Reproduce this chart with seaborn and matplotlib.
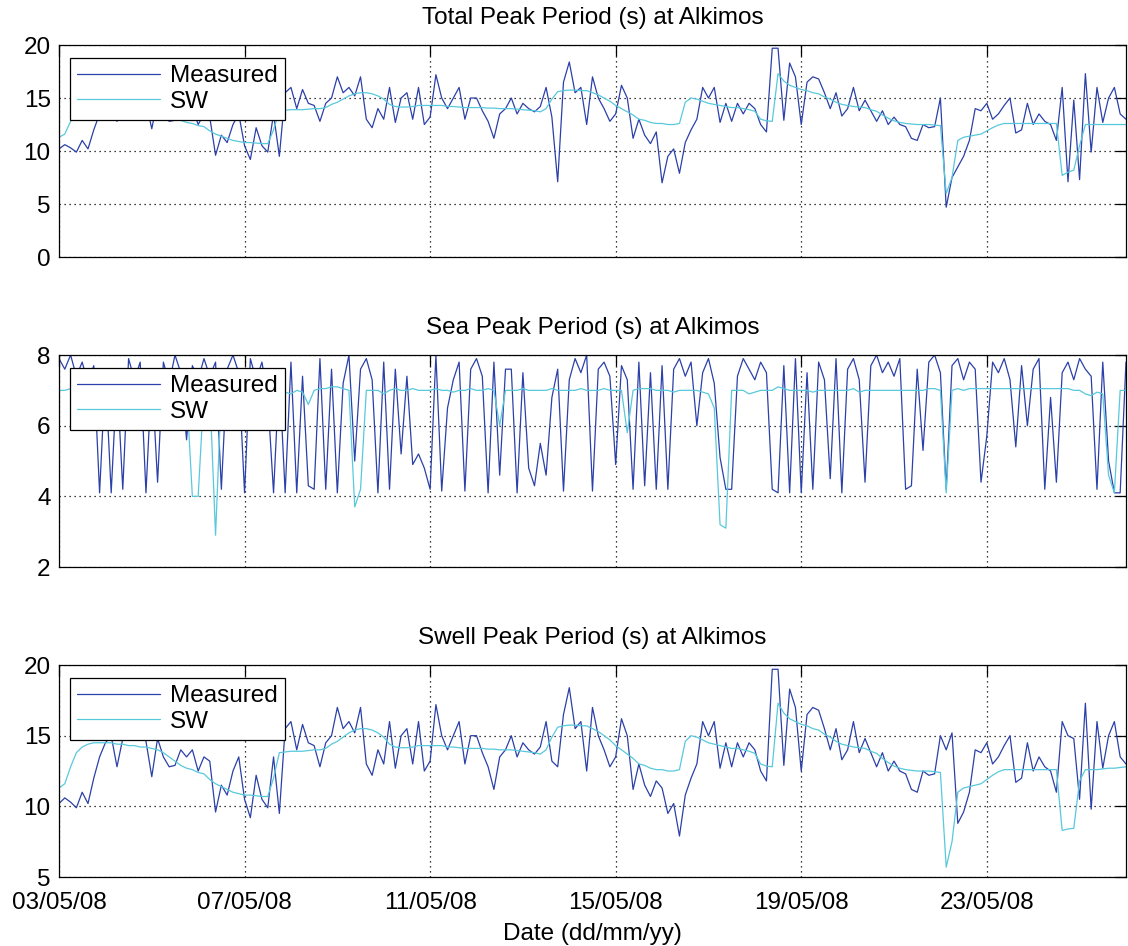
import pandas as pd
import matplotlib
matplotlib.use("Agg")
import matplotlib.pyplot as plt
import matplotlib.dates as mdates
import seaborn as sns

# 3-hourly samples, 03/05/08 00:00 -> 26/05/08 00:00
times = pd.date_range("2008-05-03", "2008-05-26", freq="3h")

total_measured = [
    10.2, 10.6, 10.3, 9.9, 11.0, 10.2, 12.0, 13.5,
    14.5, 15.0, 12.8, 14.8, 15.5, 14.8, 15.3, 14.6,
    12.1, 14.8, 13.5, 12.8, 12.9, 14.0, 13.5, 14.0,
    12.5, 13.5, 13.2, 9.6, 11.5, 10.8, 12.5, 13.5,
    10.5, 9.2, 12.2, 10.5, 9.9, 13.5, 9.5, 15.5,
    16.0, 14.0, 15.8, 14.5, 14.3, 12.8, 14.5, 15.0,
    17.0, 15.5, 16.0, 15.2, 17.0, 13.0, 12.2, 14.0,
    13.0, 16.0, 12.7, 15.0, 15.5, 13.0, 16.0, 12.5,
    13.2, 17.2, 15.0, 14.0, 15.0, 16.0, 13.0, 15.0,
    15.0, 13.8, 12.8, 11.2, 13.5, 14.0, 15.0, 13.5,
    14.5, 14.0, 13.7, 14.2, 16.0, 13.2, 7.1, 16.5,
    18.4, 15.5, 16.0, 12.5, 17.0, 15.0, 14.0, 12.8,
    13.5, 16.2, 15.0, 11.2, 13.0, 11.5, 10.7, 11.8,
    7.0, 9.5, 10.2, 7.9, 10.8, 12.0, 13.0, 16.0,
    15.0, 16.0, 12.7, 14.5, 12.8, 14.5, 13.5, 14.5,
    14.0, 12.5, 11.8, 19.7, 19.7, 12.9, 18.3, 17.0,
    12.5, 16.5, 17.0, 16.8, 15.5, 14.0, 15.5, 13.3,
    14.0, 16.0, 13.8, 14.8, 13.8, 12.8, 13.8, 12.5,
    13.2, 12.5, 12.3, 11.2, 11.0, 12.5, 12.2, 12.3,
    15.0, 4.7, 7.5, 8.5, 9.5, 11.0, 14.0, 13.8,
    14.5, 13.0, 13.5, 14.3, 15.0, 11.7, 12.0, 14.5,
    12.5, 13.5, 12.8, 12.5, 11.0, 16.0, 7.1, 14.8,
    7.3, 17.3, 9.9, 16.0, 12.7, 15.0, 16.0, 13.5,
    13.0,
]
total_sw = [
    11.3, 11.6, 12.8, 13.8, 14.2, 14.4, 14.5, 14.5,
    14.5, 14.5, 14.4, 14.4, 14.3, 14.3, 14.2, 14.2,
    14.1, 14.0, 13.8, 13.5, 13.2, 12.9, 12.7, 12.6,
    12.4, 12.3, 11.9, 11.6, 11.4, 11.2, 11.0, 10.9,
    10.8, 10.8, 10.75, 10.7, 10.7, 12.0, 13.8, 13.85,
    13.9, 13.9, 13.9, 13.95, 14.0, 14.0, 14.1, 14.4,
    14.6, 14.9, 15.2, 15.4, 15.5, 15.5, 15.4, 15.2,
    14.9, 14.4, 14.2, 14.15, 14.15, 14.2, 14.3, 14.3,
    14.3, 14.3, 14.3, 14.2, 14.2, 14.15, 14.1, 14.1,
    14.1, 14.1, 14.05, 14.05, 14.0, 14.0, 14.0, 13.95,
    13.9, 13.85, 13.8, 13.7, 14.0, 14.9, 15.6, 15.7,
    15.75, 15.75, 15.7, 15.7, 15.5, 15.3, 15.0, 14.7,
    14.3, 14.0, 13.7, 13.4, 13.0, 12.9, 12.7, 12.6,
    12.6, 12.5, 12.5, 12.6, 14.6, 15.0, 14.9, 14.7,
    14.5, 14.4, 14.3, 14.2, 14.1, 14.1, 14.0, 13.9,
    13.75, 13.0, 12.85, 12.8, 17.3, 16.6, 16.2, 16.0,
    15.8, 15.7, 15.5, 15.4, 15.1, 14.9, 14.6, 14.4,
    14.3, 14.2, 14.15, 14.1, 13.9, 13.75, 13.4, 13.1,
    12.85, 12.7, 12.6, 12.55, 12.5, 12.5, 12.5, 12.45,
    12.4, 6.0, 7.5, 11.0, 11.3, 11.4, 11.5, 11.6,
    11.9, 12.2, 12.45, 12.6, 12.6, 12.6, 12.6, 12.6,
    12.6, 12.6, 12.6, 12.6, 12.6, 7.7, 8.0, 8.2,
    10.5, 12.5, 12.5, 12.5, 12.5, 12.5, 12.5, 12.5,
    12.5,
]
sea_measured = [
    7.9, 7.6, 8.0, 7.4, 7.8, 7.2, 7.7, 4.1,
    7.5, 4.1, 7.4, 4.2, 7.9, 7.3, 7.8, 4.1,
    7.5, 4.4, 7.8, 7.2, 8.0, 7.5, 5.6, 7.7,
    7.3, 7.9, 7.4, 7.8, 4.2, 7.6, 8.0, 7.5,
    4.1, 7.9, 7.3, 7.8, 6.8, 4.1, 7.5, 4.1,
    7.8, 4.1, 7.4, 4.3, 4.2, 7.9, 4.2, 7.6,
    4.1, 7.2, 8.0, 5.0, 7.6, 7.9, 7.3, 4.1,
    7.8, 4.2, 7.6, 5.2, 7.4, 4.9, 5.2, 4.8,
    4.2, 8.0, 4.15, 6.5, 7.3, 7.8, 4.15, 7.6,
    7.9, 7.4, 4.1, 7.8, 4.6, 7.6, 7.6, 4.1,
    7.5, 4.8, 4.3, 5.5, 4.6, 6.8, 7.6, 4.15,
    7.3, 7.9, 7.5, 8.0, 4.15, 7.6, 7.8, 7.4,
    4.9, 7.7, 7.3, 4.2, 7.8, 4.3, 7.5, 4.2,
    7.7, 4.2, 7.6, 7.9, 7.4, 7.8, 6.0, 7.5,
    7.9, 7.2, 5.1, 4.2, 4.2, 7.4, 7.9, 7.6,
    7.3, 7.8, 7.5, 4.2, 4.1, 7.7, 4.1, 7.9,
    4.1, 7.5, 4.2, 7.8, 7.3, 4.5, 7.9, 4.1,
    7.6, 7.9, 7.3, 4.4, 7.7, 8.0, 7.5, 7.8,
    7.4, 7.9, 4.2, 4.3, 7.6, 5.3, 7.8, 8.0,
    7.5, 4.2, 7.7, 7.9, 7.3, 7.8, 7.6, 4.4,
    5.7, 7.8, 7.5, 7.9, 7.3, 5.4, 7.7, 6.0,
    7.6, 7.9, 4.2, 6.8, 4.4, 7.5, 7.8, 7.3,
    7.9, 7.6, 7.4, 4.2, 7.8, 5.0, 4.1, 4.1,
    7.8,
]
sea_sw = [
    7.0, 7.0, 7.05, 7.0, 7.0, 7.05, 7.0, 7.0,
    7.0, 7.05, 7.0, 7.0, 7.05, 7.0, 7.0, 7.0,
    7.0, 7.05, 7.0, 7.0, 6.95, 7.0, 7.0, 4.0,
    4.0, 7.0, 7.0, 2.9, 7.0, 7.05, 7.0, 7.0,
    7.0, 7.05, 7.0, 7.0, 7.05, 7.0, 6.95, 6.95,
    6.9, 7.0, 6.95, 6.6, 7.0, 7.05, 7.05, 7.1,
    7.1, 7.05, 7.0, 3.7, 4.2, 7.0, 7.0, 7.0,
    6.9, 7.0, 7.05, 7.0, 7.0, 7.05, 7.0, 7.0,
    7.0, 7.05, 7.0, 7.0, 6.95, 7.0, 7.0, 7.05,
    7.0, 7.0, 7.05, 7.0, 6.0, 7.0, 7.0, 7.0,
    7.05, 7.0, 7.0, 7.0, 7.0, 7.05, 7.0, 7.0,
    7.0, 7.0, 7.05, 7.0, 7.0, 7.0, 7.05, 7.0,
    7.0, 7.0, 5.8, 7.0, 7.05, 7.05, 7.05, 7.0,
    7.0, 7.0, 6.95, 7.0, 7.0, 7.0, 7.0, 6.95,
    6.9, 6.5, 3.2, 3.1, 7.0, 7.0, 7.0, 6.9,
    6.95, 7.0, 7.0, 7.0, 7.1, 7.05, 7.0, 7.0,
    7.0, 7.0, 6.95, 7.0, 7.0, 7.0, 7.0, 7.0,
    7.0, 7.05, 6.95, 7.0, 7.0, 7.0, 7.0, 7.0,
    7.0, 7.0, 7.0, 7.0, 7.0, 7.0, 7.05, 7.05,
    7.0, 4.1, 7.0, 7.05, 7.0, 7.05, 7.05, 7.05,
    7.05, 7.05, 7.05, 7.05, 7.05, 7.05, 7.05, 7.05,
    7.05, 7.05, 7.05, 7.05, 7.05, 7.05, 7.05, 7.0,
    7.0, 6.9, 6.85, 6.95, 6.9, 4.6, 4.1, 7.0,
    7.0,
]
swell_measured = [
    10.2, 10.6, 10.3, 9.9, 11.0, 10.2, 12.0, 13.5,
    14.5, 15.0, 12.8, 14.8, 15.5, 14.8, 15.3, 14.6,
    12.1, 14.8, 13.5, 12.8, 12.9, 14.0, 13.5, 14.0,
    12.5, 13.5, 13.2, 9.6, 11.5, 10.8, 12.5, 13.5,
    10.5, 9.2, 12.2, 10.5, 9.9, 13.5, 9.5, 15.5,
    16.0, 14.0, 15.8, 14.5, 14.3, 12.8, 14.5, 15.0,
    17.0, 15.5, 16.0, 15.2, 17.0, 13.0, 12.2, 14.0,
    13.0, 16.0, 12.7, 15.0, 15.5, 13.0, 16.0, 12.5,
    13.2, 17.2, 15.0, 14.0, 15.0, 16.0, 13.0, 15.0,
    15.0, 13.8, 12.8, 11.2, 13.5, 14.0, 15.0, 13.5,
    14.5, 14.0, 13.7, 14.2, 16.0, 13.2, 12.8, 16.5,
    18.4, 15.5, 16.0, 12.5, 17.0, 15.0, 14.0, 12.8,
    13.5, 16.2, 15.0, 11.2, 13.0, 11.5, 10.7, 11.8,
    11.3, 9.5, 10.2, 7.9, 10.8, 12.0, 13.0, 16.0,
    15.0, 16.0, 12.7, 14.5, 12.8, 14.5, 13.5, 14.5,
    14.0, 12.5, 11.8, 19.7, 19.7, 12.9, 18.3, 17.0,
    12.5, 16.5, 17.0, 16.8, 15.5, 14.0, 15.5, 13.3,
    14.0, 16.0, 13.8, 14.8, 13.8, 12.8, 13.8, 12.5,
    13.2, 12.5, 12.3, 11.2, 11.0, 12.5, 12.2, 12.3,
    15.0, 14.0, 15.2, 8.8, 9.6, 11.0, 14.0, 13.8,
    14.5, 13.0, 13.5, 14.3, 15.0, 11.7, 12.0, 14.5,
    12.5, 13.5, 12.8, 12.5, 11.0, 16.0, 15.0, 14.8,
    10.5, 17.3, 9.8, 16.0, 12.7, 15.0, 16.0, 13.5,
    13.0,
]
swell_sw = [
    11.3, 11.6, 12.8, 13.8, 14.2, 14.4, 14.5, 14.5,
    14.5, 14.5, 14.4, 14.4, 14.3, 14.3, 14.2, 14.2,
    14.1, 14.0, 13.8, 13.5, 13.2, 12.9, 12.7, 12.6,
    12.4, 12.3, 11.9, 11.6, 11.4, 11.2, 11.0, 10.9,
    10.8, 10.8, 10.75, 10.7, 10.7, 12.0, 13.8, 13.85,
    13.9, 13.9, 13.9, 13.95, 14.0, 14.0, 14.1, 14.4,
    14.6, 14.9, 15.2, 15.4, 15.5, 15.5, 15.4, 15.2,
    14.9, 14.4, 14.2, 14.15, 14.15, 14.2, 14.3, 14.3,
    14.3, 14.3, 14.3, 14.2, 14.2, 14.15, 14.1, 14.1,
    14.1, 14.1, 14.05, 14.05, 14.0, 14.0, 14.0, 13.95,
    13.9, 13.85, 13.8, 13.7, 14.0, 14.9, 15.6, 15.7,
    15.75, 15.75, 15.7, 15.7, 15.5, 15.3, 15.0, 14.7,
    14.3, 14.0, 13.7, 13.4, 13.0, 12.9, 12.7, 12.6,
    12.6, 12.5, 12.5, 12.6, 14.6, 15.0, 14.9, 14.7,
    14.5, 14.4, 14.3, 14.2, 14.1, 14.1, 14.0, 13.9,
    13.75, 13.0, 12.85, 12.8, 17.3, 16.6, 16.2, 16.0,
    15.8, 15.7, 15.5, 15.4, 15.1, 14.9, 14.6, 14.4,
    14.3, 14.2, 14.15, 14.1, 13.9, 13.75, 13.4, 13.1,
    12.85, 12.7, 12.6, 12.55, 12.5, 12.5, 12.5, 12.45,
    12.4, 5.7, 7.5, 11.0, 11.3, 11.4, 11.5, 11.6,
    11.9, 12.2, 12.45, 12.6, 12.6, 12.6, 12.6, 12.6,
    12.6, 12.6, 12.6, 12.6, 12.6, 8.3, 8.4, 8.45,
    11.8, 12.6, 12.6, 12.6, 12.65, 12.7, 12.7, 12.75,
    12.8,
]

titles = ["Total Peak Period (s) at Alkimos",
          "Sea Peak Period (s) at Alkimos",
          "Swell Peak Period (s) at Alkimos"]
series_names = ["Measured", "SW"]
y_limits = [(0, 20), (2, 8), (5, 20)]
y_steps = [5, 2, 5]
tick_days = [3, 7, 11, 15, 19, 23]

panels = [
    (total_measured, total_sw),
    (sea_measured, sea_sw),
    (swell_measured, swell_sw),
]

sns.set_style("white")
plt.rcParams["font.family"] = ["Liberation Sans", "DejaVu Sans"]
plt.rcParams["text.color"] = "black"
plt.rcParams["axes.labelcolor"] = "black"

fig = plt.figure(figsize=(11.28, 9.46), dpi=100)
boxes = [
    [0.0523, 0.7283, 0.9459, 0.2241],
    [0.0523, 0.4006, 0.9459, 0.2241],
    [0.0523, 0.0729, 0.9459, 0.2241],
]
fs = 17.5

for i, (box, (meas, sw)) in enumerate(zip(boxes, panels)):
    ax = fig.add_axes(box)
    sns.lineplot(x=times, y=meas, ax=ax, color="#2b40a8", linewidth=0.9,
                 label=series_names[0])
    sns.lineplot(x=times, y=sw, ax=ax, color="#58c9dc", linewidth=0.9,
                 label=series_names[1])

    lo, hi = y_limits[i]
    ax.set_ylim(lo, hi)
    ax.set_yticks(range(lo, hi + 1, y_steps[i]))
    ax.set_xlim(times[0], times[-1])
    ax.xaxis.set_major_locator(mdates.DayLocator(bymonthday=tick_days))
    ax.xaxis.set_major_formatter(mdates.DateFormatter("%d/%m/%y"))

    ax.grid(True, linestyle=(0, (1, 3)), color="black", linewidth=0.9)
    ax.tick_params(direction="in", top=True, right=True, length=8,
                   width=0.9, labelsize=fs, colors="black")
    ax.tick_params(axis="y", pad=6)
    ax.tick_params(axis="x", pad=11)
    for sp in ax.spines.values():
        sp.set_color("black")
        sp.set_linewidth(0.9)

    ax.set_title(titles[i], fontsize=fs, pad=15, color="black")
    ax.set_ylabel("")
    if i < 2:
        ax.tick_params(labelbottom=False)
        ax.set_xlabel("")
    else:
        ax.set_xlabel("Date (dd/mm/yy)", fontsize=fs, labelpad=6)

    leg = ax.legend(loc="upper left", bbox_to_anchor=(0.0103, 0.9387),
                    borderaxespad=0, fontsize=fs, frameon=True,
                    fancybox=False, framealpha=1, edgecolor="black",
                    handlelength=3.4, handletextpad=0.4, borderpad=0.3,
                    labelspacing=0.15)
    leg.get_frame().set_linewidth(0.9)
    for ln in leg.get_lines():
        ln.set_linewidth(0.9)

fig.savefig("out.png", dpi=100)
plt.close(fig)
